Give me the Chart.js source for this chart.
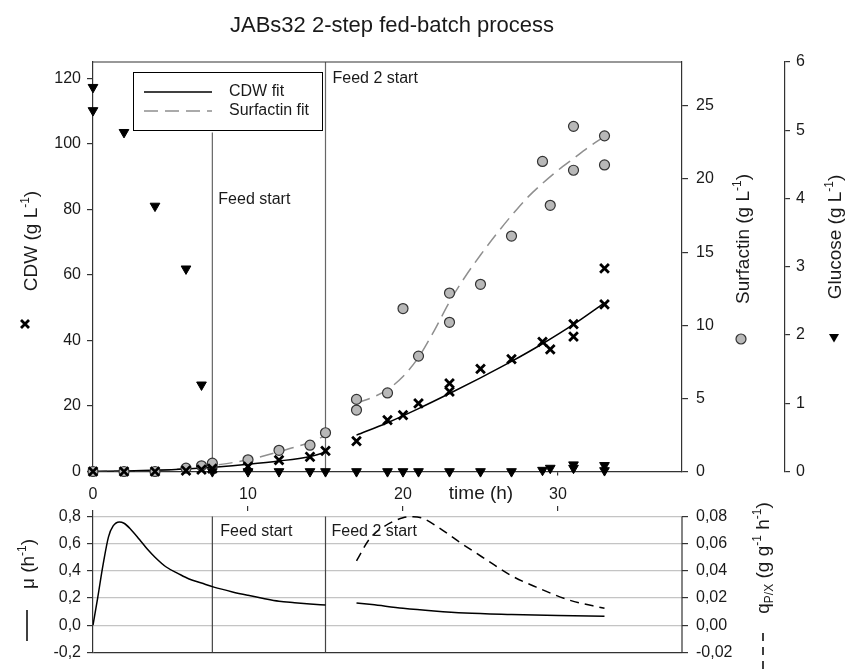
<!DOCTYPE html>
<html>
<head>
<meta charset="utf-8">
<script src="https://cdn.jsdelivr.net/npm/chart.js@4.4.1/dist/chart.umd.min.js"></script>
<style>
  html, body { margin: 0; padding: 0; background: #fff; }
  #wrap { position: relative; width: 856px; height: 670px; }
  canvas { position: absolute; left: 0; top: 0; }
</style>
</head>
<body>
<div id="wrap">
  <canvas id="topChart" width="856" height="670"></canvas>
  <canvas id="bottomChart" width="856" height="670"></canvas>
</div>
<script>
// --- measured values (time in h) ---
const cdwTime  = [0, 2, 4, 6, 7, 7.7, 10, 12, 14, 15, 17, 19, 20, 21, 23, 23, 25, 27, 29, 29.5, 31, 31, 33, 33];
const cdwValue = [0, 0, 0, 0.3, 0.6, 0.9, 1.5, 3.5, 4.5, 6.3, 9.3, 15.7, 17.2, 20.8, 26.9, 24.4, 31.3, 34.3, 39.6, 37.3, 45.0, 41.2, 51.0, 62.0];

const surfTime  = [0, 2, 4, 6, 7, 7.7, 10, 12, 14, 15, 17, 17, 19, 20, 21, 23, 23, 25, 27, 29, 29.5, 31, 31, 33, 33];
const surfValue = [0, 0, 0, 0.23, 0.39, 0.57, 0.8, 1.45, 1.8, 2.65, 4.93, 4.2, 5.37, 11.14, 7.89, 12.2, 10.2, 12.8, 16.1, 21.2, 18.2, 23.6, 20.6, 22.95, 20.96];

const glucTime  = [0, 0, 2, 4, 6, 7, 7.7, 10, 12, 14, 15, 17, 19, 20, 21, 23, 25, 27, 29, 29.5, 31, 31, 33, 33];
const glucValue = [5.63, 5.29, 4.97, 3.89, 2.97, 1.27, 0, 0, 0, 0, 0, 0, 0, 0, 0, 0, 0, 0, 0.02, 0.05, 0.1, 0.05, 0.09, 0.015];

// --- model fits (two feeding phases) ---
const cdwFitTime1 = [0, 2, 4, 6, 8, 10, 12, 14, 15];
const cdwFit1     = [0, 0.15, 0.4, 0.8, 1.4, 2.2, 3.2, 4.6, 5.9];
const cdwFitTime2 = [17, 19, 21, 23, 25, 27, 29, 31, 33];
const cdwFit2     = [11.1, 14.9, 19.2, 23.8, 28.6, 33.6, 39.0, 44.9, 51.5];

const surfFitTime1 = [0, 2, 4, 6, 8, 10, 12, 14, 15];
const surfFit1     = [0, 0.03, 0.08, 0.2, 0.45, 0.8, 1.35, 2.0, 2.45];
const surfFitTime2 = [17, 18, 19, 20, 21, 22, 23, 24, 25, 26, 27, 28, 29, 30, 31, 32, 33];
const surfFit2     = [4.7, 5.05, 5.6, 6.5, 7.8, 9.6, 11.6, 13.3, 14.8, 16.2, 17.5, 18.7, 19.7, 20.6, 21.4, 22.2, 22.9];

// --- specific rates ---
const muTime1 = [0, 0.3, 0.65, 1.0, 1.3, 1.7, 2.0, 2.4, 3.0, 3.5, 4.0, 4.7, 5.5, 6.2, 7.0, 7.8, 9.0, 10, 11, 12, 13, 14, 15];
const mu1     = [0.0, 0.2, 0.445, 0.65, 0.73, 0.76, 0.75, 0.71, 0.63, 0.56, 0.5, 0.43, 0.38, 0.34, 0.31, 0.28, 0.245, 0.22, 0.197, 0.177, 0.166, 0.156, 0.148];
const muTime2 = [17, 18, 20, 22, 24, 27, 30, 33];
const mu2     = [0.164, 0.152, 0.125, 0.105, 0.09, 0.079, 0.071, 0.066];

const qTime  = [17, 17.85, 18.7, 20, 20.65, 21.3, 22.15, 23.66, 25.4, 26.9, 28.6, 30.75, 33];
const qValue = [0.0474, 0.0636, 0.072, 0.079, 0.0798, 0.0785, 0.073, 0.061, 0.048, 0.037, 0.028, 0.0184, 0.0124];

const feedTimes = [7.7, 15];

// --- tick labels ---
const timeTicks = [0, 10, 20, 30];

const FONT = "'Liberation Sans', Arial, Helvetica, sans-serif";
const AXIS = '#333333';
const TEXT = '#1a1a1a';
Chart.defaults.font.family = FONT;
Chart.defaults.font.size = 16;
Chart.defaults.color = TEXT;

function pts(xs, ys) {
  return xs.map((x, i) => ({ x: x, y: ys[i] }));
}
function withGap(xs1, ys1, xs2, ys2) {
  const mid = (xs1[xs1.length - 1] + xs2[0]) / 2;
  return pts(xs1, ys1).concat([{ x: mid, y: null }], pts(xs2, ys2));
}
function comma(d) {
  return v => (Math.abs(v) < 1e-9 ? 0 : v).toFixed(d).replace('.', ',');
}

// text with super/subscripts, optionally rotated
function drawRich(ctx, parts, x, y, size, vertical) {
  ctx.save();
  ctx.translate(x, y);
  if (vertical) ctx.rotate(-Math.PI / 2);
  ctx.fillStyle = TEXT;
  ctx.textAlign = 'left';
  ctx.textBaseline = 'alphabetic';
  const small = Math.round(size * 0.62);
  let total = 0;
  parts.forEach(p => {
    ctx.font = (p.s ? small : size) + 'px ' + FONT;
    p.w = ctx.measureText(p.t).width;
    total += p.w;
  });
  let cx = -total / 2;
  parts.forEach(p => {
    ctx.font = (p.s ? small : size) + 'px ' + FONT;
    const dy = p.s === 'sup' ? -size * 0.42 : (p.s === 'sub' ? size * 0.22 : 0);
    ctx.fillText(p.t, cx, dy);
    cx += p.w;
  });
  ctx.restore();
}

function text(ctx, str, x, y, size, align) {
  ctx.save();
  ctx.font = size + 'px ' + FONT;
  ctx.fillStyle = TEXT;
  ctx.textAlign = align || 'left';
  ctx.textBaseline = 'middle';
  ctx.fillText(str, x, y);
  ctx.restore();
}

function axisOpts(extra) {
  return Object.assign({
    type: 'linear',
    grid: { drawOnChartArea: false, tickLength: 6, color: AXIS, lineWidth: 1.2 },
    border: { color: AXIS, width: 1.2 }
  }, extra);
}

// ---------- upper panel ----------
const topDecor = {
  id: 'topDecor',
  afterDatasetsDraw(chart) {
    const ctx = chart.ctx;
    const a = chart.chartArea;
    const x = chart.scales.x;

    // top border
    ctx.save();
    ctx.strokeStyle = AXIS;
    ctx.lineWidth = 1.2;
    ctx.beginPath();
    ctx.moveTo(a.left, a.top);
    ctx.lineTo(a.right, a.top);
    ctx.stroke();

    // legend
    ctx.fillStyle = '#fff';
    ctx.fillRect(133.5, 72.5, 189, 58);
    ctx.strokeStyle = '#000';
    ctx.lineWidth = 1;
    ctx.strokeRect(133.5, 72.5, 189, 58);
    ctx.lineWidth = 1.5;
    ctx.beginPath();
    ctx.moveTo(144, 92); ctx.lineTo(212, 92);
    ctx.stroke();
    ctx.strokeStyle = '#8f8f8f';
    ctx.setLineDash([14, 7]);
    ctx.beginPath();
    ctx.moveTo(144, 111); ctx.lineTo(212, 111);
    ctx.stroke();
    ctx.setLineDash([]);
    ctx.restore();
    text(ctx, 'CDW fit', 229, 92, 16);
    text(ctx, 'Surfactin fit', 229, 111, 16);

    // feed labels
    text(ctx, 'Feed start', x.getPixelForValue(feedTimes[0]) + 6, 200, 16);
    text(ctx, 'Feed 2 start', x.getPixelForValue(feedTimes[1]) + 7, 79, 16);
  },
  afterDraw(chart) {
    const ctx = chart.ctx;
    ctx.save();
    ctx.font = '22px ' + FONT;
    ctx.fillStyle = TEXT;
    ctx.textAlign = 'center';
    ctx.textBaseline = 'alphabetic';
    ctx.fillText('JABs32 2-step fed-batch process', 392, 32);
    ctx.restore();

    text(ctx, 'time (h)', 481, 494, 19, 'center');

    drawRich(ctx, [{ t: 'CDW (g L' }, { t: '-1', s: 'sup' }, { t: ')' }], 37, 241, 19, true);
    drawRich(ctx, [{ t: 'Surfactin (g L' }, { t: '-1', s: 'sup' }, { t: ')' }], 749, 239, 19, true);
    drawRich(ctx, [{ t: 'Glucose (g L' }, { t: '-1', s: 'sup' }, { t: ')' }], 841, 237, 19, true);

    // symbols below the axis titles
    ctx.save();
    ctx.strokeStyle = '#000';
    ctx.lineWidth = 2.8;
    ctx.beginPath();
    ctx.moveTo(21, 320); ctx.lineTo(29, 328);
    ctx.moveTo(29, 320); ctx.lineTo(21, 328);
    ctx.stroke();
    ctx.beginPath();
    ctx.arc(741, 339, 5, 0, Math.PI * 2);
    ctx.fillStyle = '#b8b8b8';
    ctx.fill();
    ctx.lineWidth = 1.2;
    ctx.strokeStyle = '#333';
    ctx.stroke();
    ctx.beginPath();
    ctx.moveTo(829, 334); ctx.lineTo(839, 334); ctx.lineTo(834, 342.5);
    ctx.closePath();
    ctx.fillStyle = '#000';
    ctx.fill();
    ctx.restore();
  }
};

new Chart(document.getElementById('topChart'), {
  type: 'scatter',
  data: {
    datasets: [
      { label: 'Feed start', data: pts([feedTimes[0], feedTimes[0]], [0, 103.5]), showLine: true, pointRadius: 0,
        borderColor: '#666', borderWidth: 1.2, yAxisID: 'y', order: 10 },
      { label: 'Feed 2 start', data: pts([feedTimes[1], feedTimes[1]], [0, 125]), showLine: true, pointRadius: 0,
        borderColor: '#666', borderWidth: 1.2, yAxisID: 'y', order: 10 },
      { label: 'CDW fit', data: withGap(cdwFitTime1, cdwFit1, cdwFitTime2, cdwFit2), showLine: true, pointRadius: 0,
        borderColor: '#000', borderWidth: 1.5, cubicInterpolationMode: 'monotone', yAxisID: 'y', order: 8 },
      { label: 'Surfactin fit', data: withGap(surfFitTime1, surfFit1, surfFitTime2, surfFit2), showLine: true, pointRadius: 0,
        borderColor: '#8f8f8f', borderWidth: 1.5, borderDash: [14, 7], cubicInterpolationMode: 'monotone', yAxisID: 'ys', order: 9 },
      { label: 'Surfactin', data: pts(surfTime, surfValue), pointStyle: 'circle', pointRadius: 5,
        pointBackgroundColor: '#b8b8b8', pointBorderColor: '#333', pointBorderWidth: 1.2, yAxisID: 'ys', order: 3, clip: false },
      { label: 'CDW', data: pts(cdwTime, cdwValue), pointStyle: 'crossRot', pointRadius: 6.2,
        pointBorderColor: '#000', pointBorderWidth: 2.8, yAxisID: 'y', order: 2, clip: false },
      { label: 'Glucose', data: pts(glucTime, glucValue), pointStyle: 'triangle', pointRotation: 180, pointRadius: 5.6,
        pointBackgroundColor: '#000', pointBorderColor: '#000', pointBorderWidth: 1, yAxisID: 'yg', order: 1, clip: false }
    ]
  },
  options: {
    responsive: false,
    animation: false,
    events: [],
    layout: { padding: { top: 62, left: 0, right: 0, bottom: 168.5 } },
    plugins: { legend: { display: false }, tooltip: { enabled: false } },
    scales: {
      x: axisOpts({
        min: 0, max: 38, position: 'bottom',
        afterBuildTicks: s => { s.ticks = timeTicks.map(v => ({ value: v })); },
        ticks: { padding: 9, font: { size: 16 } },
        grid: { drawOnChartArea: false, tickLength: 4, color: AXIS, lineWidth: 1.2 },
        afterFit: s => { s.height = 30; }
      }),
      y: axisOpts({
        min: 0, max: 125, position: 'left',
        ticks: { stepSize: 20, includeBounds: false, padding: 6 },
        afterFit: s => { s.width = 93; }
      }),
      ys: axisOpts({
        min: 0, max: 28, position: 'right', weight: 0,
        ticks: { stepSize: 5, includeBounds: false, padding: 8 },
        afterFit: s => { s.width = 103; }
      }),
      yg: axisOpts({
        min: 0, max: 6, position: 'right', weight: 1,
        ticks: { stepSize: 1, includeBounds: false, padding: 6 },
        grid: { drawOnChartArea: false, tickLength: 5, color: AXIS, lineWidth: 1.2 },
        afterFit: s => { s.width = 71; }
      })
    }
  },
  plugins: [topDecor]
});

// ---------- lower panel ----------
const bottomDecor = {
  id: 'bottomDecor',
  afterDraw(chart) {
    const ctx = chart.ctx;
    const a = chart.chartArea;
    const x = chart.scales.x;
    const yq = chart.scales.yq;

    ctx.save();
    ctx.strokeStyle = AXIS;
    ctx.lineWidth = 1.2;
    ctx.beginPath();
    ctx.moveTo(a.right, yq.getPixelForValue(0.08));
    ctx.lineTo(a.right, a.bottom);
    ctx.stroke();

    // line keys beside the axis titles
    ctx.strokeStyle = '#000';
    ctx.lineWidth = 1.5;
    ctx.beginPath();
    ctx.moveTo(27, 610); ctx.lineTo(27, 641);
    ctx.stroke();
    ctx.setLineDash([8, 6]);
    ctx.beginPath();
    ctx.moveTo(763, 633); ctx.lineTo(763, 670);
    ctx.stroke();
    ctx.restore();

    text(ctx, 'Feed start', x.getPixelForValue(feedTimes[0]) + 8, 532, 16);
    text(ctx, 'Feed 2 start', x.getPixelForValue(feedTimes[1]) + 6, 532, 16);

    drawRich(ctx, [{ t: '\u03bc (h' }, { t: '-1', s: 'sup' }, { t: ')' }], 34, 564, 19, true);
    drawRich(ctx, [{ t: 'q' }, { t: 'P/X', s: 'sub' }, { t: ' (g g' }, { t: '-1', s: 'sup' }, { t: ' h' }, { t: '-1', s: 'sup' }, { t: ')' }],
      769, 558, 19, true);
  }
};

new Chart(document.getElementById('bottomChart'), {
  type: 'scatter',
  data: {
    datasets: [
      { label: 'Feed start', data: pts([feedTimes[0], feedTimes[0]], [-0.2, 0.8]), showLine: true, pointRadius: 0,
        borderColor: '#444', borderWidth: 1.2, yAxisID: 'y', order: 10 },
      { label: 'Feed 2 start', data: pts([feedTimes[1], feedTimes[1]], [-0.2, 0.8]), showLine: true, pointRadius: 0,
        borderColor: '#444', borderWidth: 1.2, yAxisID: 'y', order: 10 },
      { label: 'mu', data: withGap(muTime1, mu1, muTime2, mu2), showLine: true, pointRadius: 0,
        borderColor: '#000', borderWidth: 1.5, cubicInterpolationMode: 'monotone', yAxisID: 'y', order: 2 },
      { label: 'qP/X', data: pts(qTime, qValue), showLine: true, pointRadius: 0,
        borderColor: '#000', borderWidth: 1.5, borderDash: [9, 6], cubicInterpolationMode: 'monotone', yAxisID: 'yq', order: 1 }
    ]
  },
  options: {
    responsive: false,
    animation: false,
    events: [],
    layout: { padding: { top: 506, left: 0, right: 0, bottom: 13.3 } },
    plugins: { legend: { display: false }, tooltip: { enabled: false } },
    scales: {
      x: axisOpts({
        min: 0, max: 38, position: 'top',
        afterBuildTicks: s => { s.ticks = timeTicks.slice(1).map(v => ({ value: v })); },
        ticks: { display: false },
        grid: { drawOnChartArea: false, tickLength: 5, color: AXIS, lineWidth: 1.2 },
        border: { display: false },
        afterFit: s => { s.height = 5; }
      }),
      y: axisOpts({
        min: -0.2, max: 0.84, position: 'left',
        ticks: { stepSize: 0.2, includeBounds: false, padding: 6, callback: comma(1) },
        grid: {
          drawOnChartArea: true, tickLength: 6, lineWidth: 1.2, tickColor: AXIS,
          color: c => (c.tick && Math.abs(c.tick.value + 0.2) < 1e-6) ? AXIS : '#c4c4c4'
        },
        afterFit: s => { s.width = 93; }
      }),
      yq: axisOpts({
        min: -0.02, max: 0.084, position: 'right',
        ticks: { stepSize: 0.02, includeBounds: false, padding: 8, callback: comma(2) },
        border: { display: false },
        afterFit: s => { s.width = 174; }
      })
    }
  },
  plugins: [bottomDecor]
});
</script>
</body>
</html>
